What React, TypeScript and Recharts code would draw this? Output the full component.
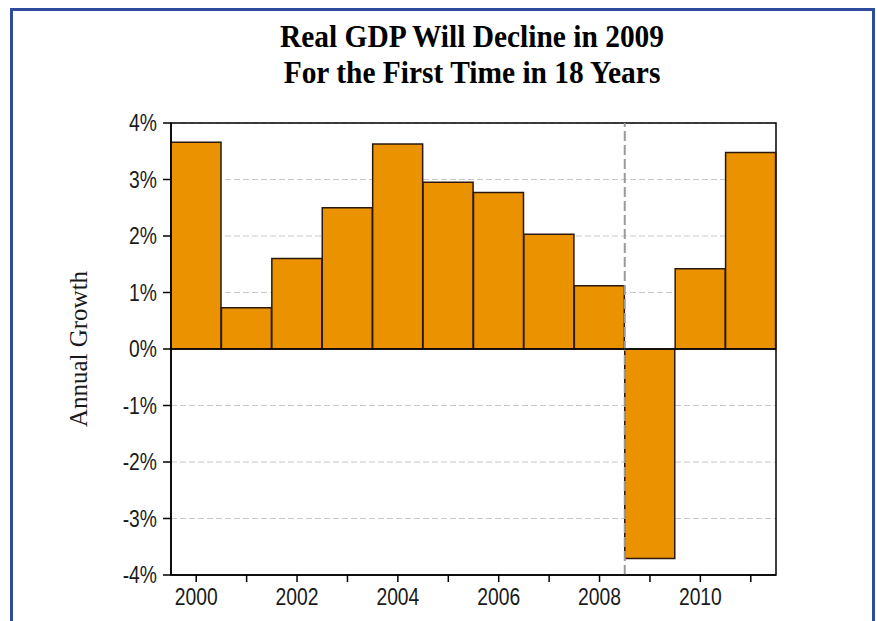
import React from "react";
import {
  BarChart,
  Bar,
  XAxis,
  YAxis,
  CartesianGrid,
  ReferenceLine,
  ReferenceArea,
  Label,
} from "recharts";

const years = [2000, 2001, 2002, 2003, 2004, 2005, 2006, 2007, 2008, 2009, 2010, 2011];
const growth = [3.66, 0.73, 1.6, 2.5, 3.63, 2.95, 2.77, 2.03, 1.12, -3.71, 1.42, 3.48];
const yTicks = [-4, -3, -2, -1, 0, 1, 2, 3, 4];
const labeledYears = [2000, 2002, 2004, 2006, 2008, 2010];
const forecastStart = 2008.5;

const data = years.map((year, i) => ({ year, growth: growth[i] }));

// narrow-looking tick text (no condensed font installed, so squeeze it)
const NarrowTick = (props: any) => {
  const { x, y, payload, textAnchor, tickFormatter, axis } = props;
  const text = tickFormatter ? tickFormatter(payload.value) : String(payload.value);
  if (!text) return null;
  const dy = axis === "x" ? 19 : 8;
  return (
    <g transform={`translate(${x},${y}) scale(0.84,1)`}>
      <text
        x={0}
        y={dy}
        textAnchor={textAnchor}
        fontFamily="'Liberation Sans', sans-serif"
        fontSize={23}
        fill="#1a1a1a"
      >
        {text}
      </text>
    </g>
  );
};

export default function App() {
  return (
    <div style={{ position: "absolute", left: 0, top: 0, width: 877, height: 621, background: "#fff", overflow: "hidden" }}>
      <div
        style={{
          position: "absolute",
          left: 10,
          top: 8,
          width: 859,
          height: 640,
          borderLeft: "3px solid #2f4b9e",
          borderTop: "3px solid #2f4b9e",
          borderRight: "3px solid #2f4b9e",
        }}
      />
      <div
        style={{
          position: "absolute",
          left: 172,
          width: 600,
          top: 18,
          textAlign: "center",
          fontFamily: "'Liberation Serif', serif",
          fontWeight: "bold",
          fontSize: 32,
          lineHeight: "36px",
          color: "#000",
          transform: "scaleX(0.92)",
        }}
      >
        <div>Real GDP Will Decline in 2009</div>
        <div>For the First Time in 18 Years</div>
      </div>
      <div style={{ position: "absolute", left: 0, top: 0 }}>
        <BarChart
          width={877}
          height={621}
          data={data}
          margin={{ top: 123, right: 101, bottom: 0, left: 0 }}
          barCategoryGap={0}
        >
          <CartesianGrid vertical={false} stroke="#c8c8c8" strokeDasharray="6 3" />
          <XAxis
            dataKey="year"
            type="number"
            domain={[1999.5, 2011.5]}
            ticks={years}
            interval={0}
            height={46}
            tickFormatter={(v: number) => (labeledYears.includes(v) ? String(v) : "")}
            tick={(p: any) => <NarrowTick {...p} axis="x" />}
            tickSize={7}
            tickMargin={4}
            axisLine={{ stroke: "#000", strokeWidth: 1.5 }}
            tickLine={{ stroke: "#000", strokeWidth: 1.5 }}
          />
          <YAxis
            type="number"
            domain={[-4, 4]}
            ticks={yTicks}
            interval={0}
            width={171}
            tickFormatter={(v: number) => `${v}%`}
            tick={(p: any) => <NarrowTick {...p} axis="y" />}
            tickSize={8}
            tickMargin={6}
            axisLine={{ stroke: "#000", strokeWidth: 1.5 }}
            tickLine={{ stroke: "#000", strokeWidth: 1.5 }}
          >
            <Label
              content={({ viewBox }: any) => {
                const cy = viewBox.y + viewBox.height / 2;
                return (
                  <text
                    x={78}
                    y={cy}
                    transform={`rotate(-90, 78, ${cy})`}
                    textAnchor="middle"
                    dominantBaseline="central"
                    fontFamily="'Liberation Serif', serif"
                    fontSize={25}
                    fill="#1a1a1a"
                  >
                    Annual Growth
                  </text>
                );
              }}
            />
          </YAxis>
          <ReferenceLine x={forecastStart} stroke="#9a9a9a" strokeWidth={2} strokeDasharray="10 4" />
          <Bar
            dataKey="growth"
            fill="#ea9200"
            stroke="#2a1810"
            strokeWidth={1.5}
            isAnimationActive={false}
          />
          <ReferenceLine y={0} stroke="#000" strokeWidth={1.5} />
          <ReferenceArea x1={1999.5} x2={2011.5} y1={-4} y2={4} fill="none" stroke="#000" strokeWidth={1.5} fillOpacity={0} />
        </BarChart>
      </div>
    </div>
  );
}
